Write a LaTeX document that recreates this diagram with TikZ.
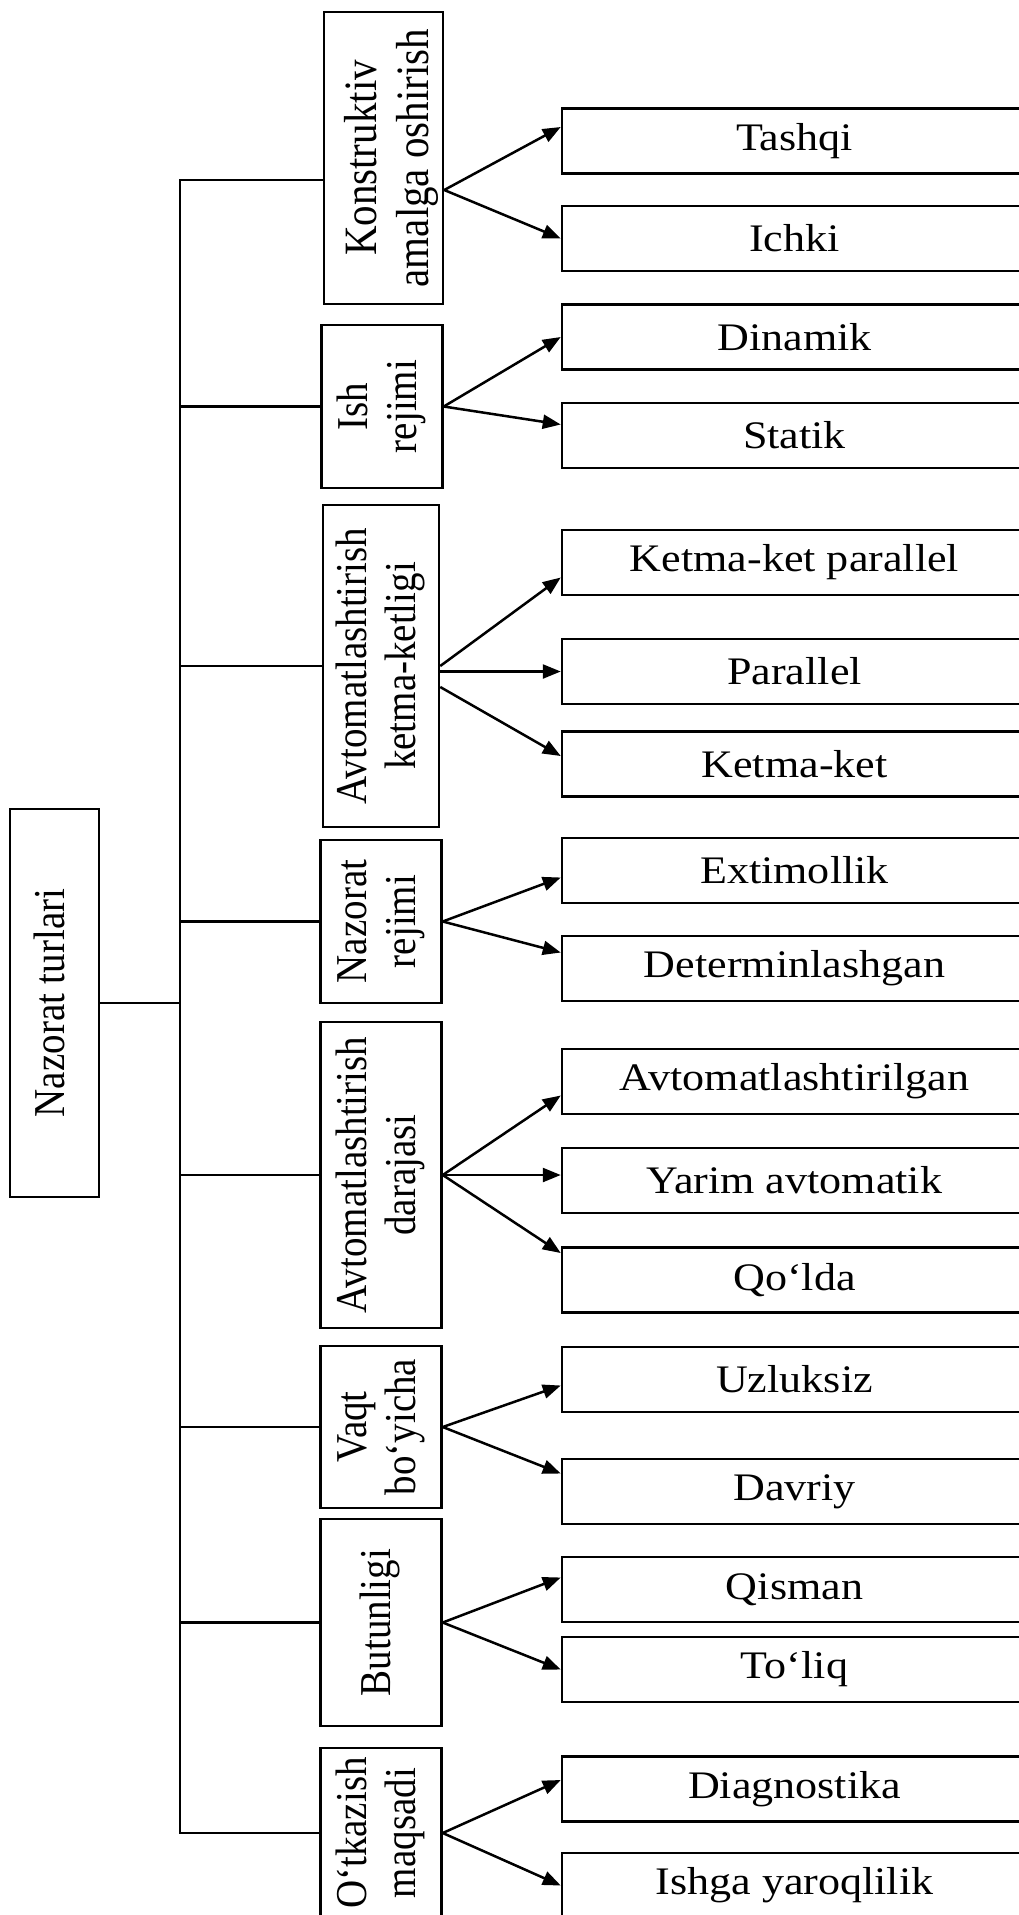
\documentclass[tikz,border=0pt]{standalone}
\usepackage{fontspec}
\setmainfont{Liberation Serif}
\usepackage{graphicx}
\usepackage{tikz}
\usetikzlibrary{
  arrows.meta,
  positioning,
  calc,
}
\newcommand{\wtext}[1]{\scalebox{1.13}[1]{#1}}
\newcommand{\vtext}[1]{\rotatebox{90}{\scalebox{1}[1.13]{\begin{tabular}{@{}c@{}}#1\end{tabular}}}}

\begin{document}
\begin{tikzpicture}[x=1pt, y=-1pt,
  every node/.style={font=\fontsize{39}{44}\selectfont},
  root/.style={draw, line width=2.5pt, minimum width=89pt, minimum height=388pt, inner sep=0pt},
  group/.style={draw, line width=2.5pt, minimum width=121pt, inner sep=0pt},
  leaf/.style={draw, line width=2.5pt, minimum width=465pt, minimum height=65pt, inner sep=0pt},
  link/.style={line width=2.3pt},
  arr/.style={line width=2.5pt, -{Triangle[length=18pt, width=14pt]}},
]
  \useasboundingbox (0,0) rectangle (1019,1915);
  \clip (0,0) rectangle (1019,1915);

  % root and groups
  \node[root] (root) at (54.5,1003) {\vtext{Nazorat turlari}};
  \node[group, minimum width=119pt, minimum height=292pt, font=\fontsize{41}{46}\selectfont] (konstr) at (383.5,158)
    {\makebox[0pt]{\hspace*{17pt}\vtext{Konstruktiv\\amalga oshirish}}};
  \node[group, minimum height=163pt] (ish) at (382,406.5) {\vtext{Ish\\rejimi}};
  \node[group, minimum width=116pt, minimum height=322pt] (akk) at (381,666) {\vtext{Avtomatlashtirish\\ketma-ketligi}};
  \node[group, minimum height=163pt] (nr) at (381,921.5) {\vtext{Nazorat\\rejimi}};
  \node[group, minimum height=306pt] (ad) at (381,1175) {\vtext{Avtomatlashtirish\\darajasi}};
  \node[group, minimum height=162pt] (vaqt) at (381,1427) {\vtext{Vaqt\\bo‘yicha}};
  \node[group, minimum height=207pt] (but) at (381,1622.5) {\vtext{Butunligi}};
  \node[group, minimum height=170pt] (om) at (381,1833) {\vtext{O‘tkazish\\maqsadi}};

  % leaves
  \node[leaf] (tashqi) at (794.5,141)    {\wtext{Tashqi}};
  \node[leaf] (ichki)  at (794.5,238.5)  {\wtext{Ichki}};
  \node[leaf] (dinam)  at (794.5,337)    {\wtext{Dinamik}};
  \node[leaf] (statik) at (794.5,435.5)  {\wtext{Statik}};
  \node[leaf] (ketpar) at (794.5,562.5)  {\wtext{Ketma-ket parallel}};
  \node[leaf] (par)    at (794.5,671.5)  {\wtext{Parallel}};
  \node[leaf] (ket)    at (794.5,764)    {\wtext{Ketma-ket}};
  \node[leaf] (ext)    at (794.5,870.5)  {\wtext{Extimollik}};
  \node[leaf] (det)    at (794.5,968.5)  {\wtext{Determinlashgan}};
  \node[leaf] (avt)    at (794.5,1081.5) {\wtext{Avtomatlashtirilgan}};
  \node[leaf] (yarim)  at (794.5,1180.5) {\wtext{Yarim avtomatik}};
  \node[leaf] (qolda)  at (794.5,1280)   {\wtext{Qo‘lda}};
  \node[leaf] (uzl)    at (794.5,1379.5) {\wtext{Uzluksiz}};
  \node[leaf] (davriy) at (794.5,1491.5) {\wtext{Davriy}};
  \node[leaf] (qisman) at (794.5,1589.5) {\wtext{Qisman}};
  \node[leaf] (toliq)  at (794.5,1669.5) {\wtext{To‘liq}};
  \node[leaf] (diag)   at (794.5,1789)   {\wtext{Diagnostika}};
  \node[leaf] (ishga)  at (794.5,1885.5) {\wtext{Ishga yaroqlilik}};

  % bus
  \coordinate (bus) at (180,0);
  \draw[link] ($(konstr.west)+(0,22)$) -| (bus |- om.west) -- (om.west);
  \draw[link] (root.east) -- (bus |- root.east);
  \draw[link] (ish.west) -- (bus |- ish.west);
  \draw[link] (akk.west) -- (bus |- akk.west);
  \draw[link] (nr.west) -- (bus |- nr.west);
  \draw[link] (ad.west) -- (bus |- ad.west);
  \draw[link] (vaqt.west) -- (bus |- vaqt.west);
  \draw[link] (but.west) -- (bus |- but.west);

  % arrows
  \draw[arr] ($(konstr.east)+(0,32)$) -- ($(tashqi.west)+(0,-14)$);
  \draw[arr] ($(konstr.east)+(0,32)$) -- (ichki.west);
  \draw[arr] (ish.east) -- (dinam.west);
  \draw[arr] (ish.east) -- ($(statik.west)+(0,-11)$);
  \draw[arr] (akk.east) -- ($(ketpar.west)+(0,15)$);
  \draw[arr] (akk.east |- par.west) -- (par.west);
  \draw[arr] ($(akk.east)+(0,21)$) -- ($(ket.west)+(0,-8)$);
  \draw[arr] (nr.east) -- ($(ext.west)+(0,7)$);
  \draw[arr] (nr.east) -- ($(det.west)+(0,-16)$);
  \draw[arr] (ad.east) -- ($(avt.west)+(0,14)$);
  \draw[arr] (ad.east) -- (ad.east -| yarim.west);
  \draw[arr] (ad.east) -- ($(qolda.west)+(0,-27)$);
  \draw[arr] (vaqt.east) -- ($(uzl.west)+(0,6)$);
  \draw[arr] (vaqt.east) -- ($(davriy.west)+(0,-18)$);
  \draw[arr] (but.east) -- ($(qisman.west)+(0,-12)$);
  \draw[arr] (but.east) -- (toliq.west);
  \draw[arr] (om.east) -- ($(diag.west)+(0,-9)$);
  \draw[arr] (om.east) -- (ishga.west);
\end{tikzpicture}
\end{document}
